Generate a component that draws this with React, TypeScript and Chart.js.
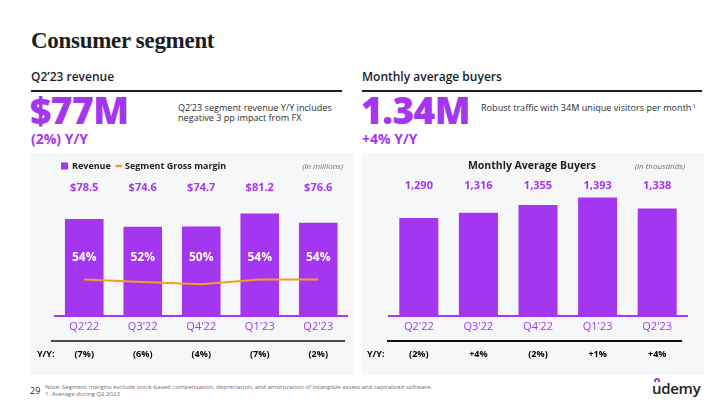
import React, { useEffect, useRef } from "react";
import { Chart, registerables } from "chart.js";

Chart.register(...registerables);

// ---------- data ----------
const quarters = ["Q2'22", "Q3'22", "Q4'22", "Q1'23", "Q2'23"];
const revenue = [78.5, 74.6, 74.7, 81.2, 76.6];
const grossMargin = [54, 52, 50, 54, 54];
const revenueYoY = ["(7%)", "(6%)", "(4%)", "(7%)", "(2%)"];
const buyers = [1290, 1316, 1355, 1393, 1338];
const buyersYoY = ["(2%)", "+4%", "(2%)", "+1%", "+4%"];

const PURPLE = "#a435f0";
const ORANGE = "#f5a01a";
const DARK = "#1c1d1f";
const PANEL = "#f6f7f9";
const SANS = "'Open Sans', 'Noto Sans', sans-serif";

const fmtMoney = (v: number) => "$" + v.toFixed(1);
const fmtThousands = (v: number) => v.toLocaleString("en-US");

const revenuePlugin = {
  id: "revenueDecor",
  afterDatasetsDraw(chart: any) {
    const { ctx, chartArea } = chart;
    const xs = chart.scales.x;
    ctx.save();
    ctx.textAlign = "center";
    ctx.textBaseline = "middle";
    ctx.fillStyle = PURPLE;
    ctx.font = `700 11px ${SANS}`;
    revenue.forEach((v, i) => ctx.fillText(fmtMoney(v), xs.getPixelForValue(i), chartArea.top - 8));
    ctx.fillStyle = "#ffffff";
    ctx.font = `700 12px ${SANS}`;
    grossMargin.forEach((v, i) => ctx.fillText(v + "%", xs.getPixelForValue(i), chartArea.top + 62));
    // legend
    const ds = chart.data.datasets;
    ctx.textAlign = "left";
    ctx.font = `700 9px ${SANS}`;
    ctx.fillStyle = ds[1].backgroundColor;
    ctx.fillRect(31, 9.5, 7, 7);
    ctx.fillStyle = DARK;
    ctx.fillText(ds[1].label, 42, 13.5);
    ctx.strokeStyle = ds[0].borderColor;
    ctx.lineWidth = 2.5;
    ctx.beginPath();
    ctx.moveTo(85.5, 13);
    ctx.lineTo(92, 13);
    ctx.stroke();
    ctx.fillStyle = DARK;
    ctx.fillText(ds[0].label, 95, 13.5);
    ctx.textAlign = "right";
    ctx.font = `italic 400 8px ${SANS}`;
    ctx.fillStyle = "#6a6f73";
    ctx.fillText("(in millions)", 313, 13.5);
    // divider line
    ctx.strokeStyle = "#4a4a4a";
    ctx.lineWidth = 2;
    ctx.beginPath();
    ctx.moveTo(21, 188);
    ctx.lineTo(315, 188);
    ctx.stroke();
    // Y/Y row
    ctx.fillStyle = "#000";
    ctx.font = `700 9px ${SANS}`;
    ctx.textAlign = "left";
    ctx.fillText("Y/Y:", 7, 201);
    ctx.textAlign = "center";
    revenueYoY.forEach((t, i) => ctx.fillText(t, xs.getPixelForValue(i), 201));
    ctx.restore();
  },
};

const buyersPlugin = {
  id: "buyersDecor",
  afterDatasetsDraw(chart: any) {
    const { ctx, chartArea } = chart;
    const xs = chart.scales.x;
    ctx.save();
    ctx.textAlign = "center";
    ctx.textBaseline = "middle";
    ctx.fillStyle = DARK;
    ctx.font = `700 10.5px ${SANS}`;
    ctx.fillText("Monthly Average Buyers", 170, 13);
    ctx.textAlign = "right";
    ctx.font = `italic 400 8px ${SANS}`;
    ctx.fillStyle = "#6a6f73";
    ctx.fillText("(in thousands)", 323, 13.5);
    ctx.textAlign = "center";
    ctx.fillStyle = PURPLE;
    ctx.font = `700 11px ${SANS}`;
    buyers.forEach((v, i) => ctx.fillText(fmtThousands(v), xs.getPixelForValue(i), chartArea.top - 10));
    ctx.strokeStyle = "#111";
    ctx.lineWidth = 2;
    ctx.beginPath();
    ctx.moveTo(25, 188);
    ctx.lineTo(320, 188);
    ctx.stroke();
    ctx.fillStyle = "#000";
    ctx.font = `700 9px ${SANS}`;
    ctx.textAlign = "left";
    ctx.fillText("Y/Y:", 5, 201);
    ctx.textAlign = "center";
    buyersYoY.forEach((t, i) => ctx.fillText(t, xs.getPixelForValue(i), 201));
    ctx.restore();
  },
};

const xAxis = {
  grid: { drawOnChartArea: false, drawTicks: false },
  border: { color: PURPLE, width: 2 },
  ticks: { color: PURPLE, font: { family: SANS, size: 11 }, padding: 4 },
};

function RevenueChart() {
  const ref = useRef<HTMLCanvasElement>(null);
  useEffect(() => {
    const chart = new Chart(ref.current!, {
      type: "bar",
      data: {
        labels: quarters,
        datasets: [
          {
            type: "line",
            label: "Segment Gross margin",
            data: grossMargin,
            borderColor: ORANGE,
            borderWidth: 2,
            pointRadius: 0,
            tension: 0,
            yAxisID: "y2",
            order: 0,
          } as any,
          {
            type: "bar",
            label: "Revenue",
            data: revenue,
            backgroundColor: PURPLE,
            barPercentage: 0.66,
            categoryPercentage: 1,
            yAxisID: "y",
            order: 1,
          },
        ],
      },
      options: {
        responsive: false,
        animation: false,
        devicePixelRatio: 1,
        layout: { padding: { top: 43, left: 25, right: 6.5, bottom: 38 } },
        plugins: { legend: { display: false }, tooltip: { enabled: false } },
        scales: {
          x: xAxis as any,
          y: { display: false, min: 30, max: 90 },
          y2: { display: false, min: 24, max: 123 },
        },
      },
      plugins: [revenuePlugin],
    });
    return () => chart.destroy();
  }, []);
  return <canvas ref={ref} width={324} height={222} style={{ display: "block" }} />;
}

function BuyersChart() {
  const ref = useRef<HTMLCanvasElement>(null);
  useEffect(() => {
    const chart = new Chart(ref.current!, {
      type: "bar",
      data: {
        labels: quarters,
        datasets: [
          {
            label: "Monthly Average Buyers",
            data: buyers,
            backgroundColor: PURPLE,
            barPercentage: 0.655,
            categoryPercentage: 1,
          },
        ],
      },
      options: {
        responsive: false,
        animation: false,
        devicePixelRatio: 1,
        layout: { padding: { top: 43, left: 27, right: 17, bottom: 38 } },
        plugins: { legend: { display: false }, tooltip: { enabled: false } },
        scales: {
          x: xAxis as any,
          y: { display: false, min: 800, max: 1400 },
        },
      },
      plugins: [buyersPlugin],
    });
    return () => chart.destroy();
  }, []);
  return <canvas ref={ref} width={342} height={222} style={{ display: "block" }} />;
}

const abs = (left: number, top: number, extra: React.CSSProperties = {}): React.CSSProperties => ({
  position: "absolute",
  left,
  top,
  whiteSpace: "nowrap",
  ...extra,
});

export default function App() {
  return (
    <div
      style={{
        position: "fixed",
        left: 0,
        top: 0,
        width: 720,
        height: 405,
        background: "#fff",
        overflow: "hidden",
        fontFamily: SANS,
        color: DARK,
      }}
    >
      <div style={abs(31, 29, { fontFamily: "'Liberation Serif', 'DejaVu Serif', serif", fontWeight: 700, fontSize: 23, lineHeight: "23px", letterSpacing: -0.3 })}>
        Consumer segment
      </div>

      <div style={abs(31, 71, { fontWeight: 600, fontSize: 12, lineHeight: "12px" })}>Q2’23 revenue</div>
      <div style={abs(31, 90, { width: 311, height: 1.5, background: DARK })} />
      <div style={abs(362, 71, { fontWeight: 600, fontSize: 12, lineHeight: "12px" })}>Monthly average buyers</div>
      <div style={abs(362, 90, { width: 340, height: 1.5, background: DARK })} />

      <div style={abs(30, 90.5, { fontWeight: 800, fontSize: 37, lineHeight: "37px", color: PURPLE, letterSpacing: -0.5 })}>$77M</div>
      <div style={abs(31, 132, { fontWeight: 700, fontSize: 14, lineHeight: "14px", color: PURPLE })}>(2%) Y/Y</div>
      <div style={abs(178, 103, { fontSize: 9.1, lineHeight: "10px", color: "#2d2f31", whiteSpace: "normal", width: 170 })}>
        Q2’23 segment revenue Y/Y includes<br />negative 3 pp impact from FX
      </div>

      <div style={abs(361, 90.5, { fontWeight: 800, fontSize: 37, lineHeight: "37px", color: PURPLE, letterSpacing: -0.5 })}>1.34M</div>
      <div style={abs(362, 132, { fontWeight: 700, fontSize: 14, lineHeight: "14px", color: PURPLE })}>+4% Y/Y</div>
      <div style={abs(481, 103, { fontSize: 9.1, lineHeight: "10px", color: "#2d2f31" })}>
        Robust traffic with 34M unique visitors per month<sup style={{ fontSize: 5.5, verticalAlign: "top", lineHeight: "6px", marginLeft: 1 }}>1</sup>
      </div>

      <div style={abs(30, 153, { width: 324, height: 222, background: PANEL })}>
        <RevenueChart />
      </div>
      <div style={abs(362, 153, { width: 342, height: 222, background: PANEL })}>
        <BuyersChart />
      </div>

      <div style={abs(30, 386, { fontSize: 9, lineHeight: "9px", color: DARK })}>29</div>
      <div style={abs(45, 384, { fontSize: 6.1, lineHeight: "6.5px", color: "#6a6f73" })}>
        Note: Segment margins exclude stock-based compensation, depreciation, and amortization of intangible assets and capitalized software.
        <br />
        1. Average during Q2 2023
      </div>

      <div style={abs(652, 381, { fontSize: 15, lineHeight: "15px", fontWeight: 600, color: DARK, letterSpacing: -0.3 })}>
        <span style={{ position: "relative" }}>
          u
          <span
            style={{
              position: "absolute",
              left: 1.5,
              top: 0,
              width: 6,
              height: 4,
              borderTop: `2px solid ${PURPLE}`,
              borderLeft: `2px solid ${PURPLE}`,
              borderRight: `2px solid ${PURPLE}`,
              borderRadius: "4px 4px 0 0",
              boxSizing: "border-box",
            }}
          />
        </span>
        demy
      </div>
    </div>
  );
}
